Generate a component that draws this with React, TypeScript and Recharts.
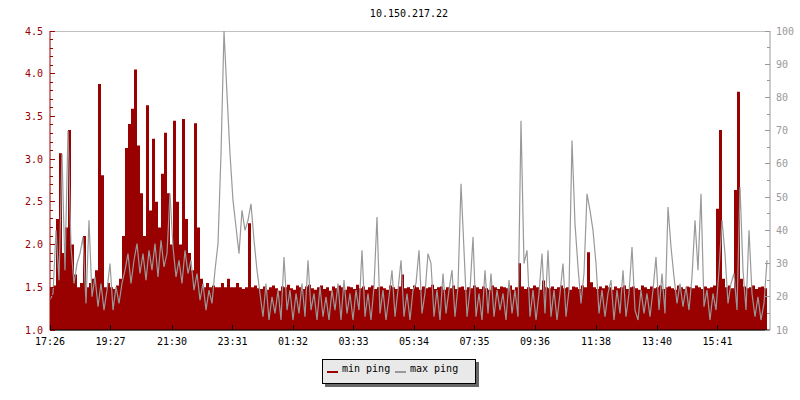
import React from 'react';
import { ComposedChart, Area, Line, XAxis, YAxis, CartesianGrid, Legend } from 'recharts';

const FONT = '"DejaVu Sans Mono", "Liberation Mono", monospace';
const TITLE = '10.150.217.22';

// minutes after 17:26 for each sample (one sample every 6 minutes)
const STEP_MINUTES = 6;
const TIME_TICKS = [0, 121, 244, 365, 486, 607, 728, 849, 970, 1092, 1214, 1335];
const TIME_LABELS = ['17:26', '19:27', '21:30', '23:31', '01:32', '03:33', '05:34', '07:35', '09:36', '11:38', '13:40', '15:41'];

// min ping (left axis)
const MIN_PING = [
  1.50, 1.52, 2.30, 3.07, 1.90, 2.20, 3.34, 2.00, 1.65, 1.50,
  1.55, 2.10, 1.50, 1.55, 1.60, 1.70, 3.88, 2.81, 1.50, 1.55,
  1.50, 1.48, 1.52, 1.60, 2.10, 3.13, 3.41, 3.59, 4.05, 3.16,
  2.60, 2.10, 3.63, 2.40, 3.24, 2.50, 2.20, 2.83, 3.31, 2.60,
  2.00, 3.45, 2.50, 2.00, 3.47, 2.30, 1.90, 1.70, 3.42, 2.20,
  1.60, 1.50, 1.55, 1.50, 1.52, 1.50, 1.50, 1.55, 1.50, 1.60,
  1.50, 1.50, 1.55, 1.50, 1.48, 1.50, 2.25, 1.50, 1.52, 1.49,
  1.48, 1.51, 1.47, 1.50, 1.52, 1.49, 1.46, 1.51, 1.50, 1.53,
  1.49, 1.47, 1.52, 1.50, 1.48, 1.51, 1.53, 1.49, 1.47, 1.50,
  1.52, 1.48, 1.50, 1.46, 1.51, 1.49, 1.52, 1.50, 1.47, 1.51,
  1.50, 1.48, 1.53, 1.49, 1.51, 1.47, 1.50, 1.52, 1.48, 1.50,
  1.51, 1.49, 1.47, 1.52, 1.50, 1.48, 1.51, 1.65, 1.49, 1.50,
  1.48, 1.52, 1.50, 1.47, 1.51, 1.49, 1.50, 1.53, 1.48, 1.50,
  1.51, 1.47, 1.50, 1.49, 1.52, 1.48, 1.50, 1.51, 1.47, 1.50,
  1.49, 1.52, 1.50, 1.48, 1.51, 1.49, 1.47, 1.52, 1.50, 1.48,
  1.51, 1.50, 1.49, 1.52, 1.47, 1.50, 1.78, 1.51, 1.48, 1.50,
  1.49, 1.52, 1.50, 1.47, 1.58, 1.50, 1.49, 1.51, 1.48, 1.50,
  1.52, 1.49, 1.50, 1.47, 1.51, 1.50, 1.48, 1.52, 1.50, 1.91,
  1.56, 1.50, 1.48, 1.51, 1.49, 1.52, 1.50, 1.47, 1.51, 1.49,
  1.50, 1.52, 1.48, 1.50, 1.51, 1.49, 1.47, 1.52, 1.50, 1.48,
  1.51, 1.49, 1.50, 1.52, 1.48, 1.50, 1.51, 1.49, 1.47, 1.52,
  1.50, 1.48, 1.51, 1.50, 1.49, 1.52, 1.50, 1.48, 1.51, 1.49,
  1.50, 1.52, 2.42, 3.34, 1.60, 1.50, 1.52, 1.49, 2.64, 3.79,
  1.60, 1.51, 1.49, 1.50, 1.52, 1.48, 1.50, 1.51, 1.49, 1.50,
];

// max ping (right axis)
const MAX_PING = [
  19, 21, 40, 25, 63, 28, 70, 35, 24, 30,
  33, 38, 18, 43, 20, 26, 17, 24, 16, 22,
  30, 16, 23, 18, 24, 28, 33, 24, 31, 36,
  27, 33, 25, 34, 28, 36, 26, 37, 29, 33,
  51, 35, 26, 31, 24, 34, 27, 31, 22, 27,
  19, 24, 16, 22, 18, 28, 36, 63, 100, 81,
  63, 49, 41, 33, 46, 40, 43, 48, 37, 28,
  21, 14, 24, 13, 20, 15, 22, 13, 32, 16,
  22, 13, 21, 15, 24, 14, 31, 16, 21, 13,
  23, 14, 20, 13, 22, 16, 24, 13, 25, 15,
  21, 13, 22, 16, 34, 14, 21, 13, 23, 44,
  15, 22, 13, 20, 28, 14, 22, 31, 14, 21,
  13, 22, 24, 34, 15, 21, 33, 30, 14, 22,
  13, 27, 15, 22, 28, 14, 23, 54, 34, 14,
  22, 38, 14, 21, 13, 28, 15, 27, 14, 22,
  16, 21, 13, 25, 15, 22, 14, 73, 30, 34,
  14, 22, 13, 21, 33, 15, 34, 14, 22, 13,
  21, 30, 14, 22, 67, 42, 29, 18, 27, 51,
  46, 40, 30, 15, 22, 14, 21, 25, 13, 22,
  15, 28, 14, 21, 35, 16, 13, 22, 15, 21,
  14, 22, 32, 16, 27, 15, 47, 35, 26, 18,
  24, 17, 23, 16, 26, 43, 28, 51, 17, 22,
  13, 21, 16, 28, 43, 33, 18, 24, 27, 16,
  53, 28, 16, 40, 21, 14, 20, 13, 18, 31,
];

const LEFT_MAJOR = [1.0, 1.5, 2.0, 2.5, 3.0, 3.5, 4.0, 4.5];
const LEFT_ALL = [
  1.0, 1.1, 1.2, 1.3, 1.4, 1.5, 1.6, 1.7, 1.8, 1.9,
  2.0, 2.1, 2.2, 2.3, 2.4, 2.5, 2.6, 2.7, 2.8, 2.9,
  3.0, 3.1, 3.2, 3.3, 3.4, 3.5, 3.6, 3.7, 3.8, 3.9,
  4.0, 4.1, 4.2, 4.3, 4.4, 4.5,
];
const RIGHT_MAJOR = [10, 20, 30, 40, 50, 60, 70, 80, 90, 100];
const RIGHT_ALL = [10, 15, 20, 25, 30, 35, 40, 45, 50, 55, 60, 65, 70, 75, 80, 85, 90, 95, 100];

const SERIES = [
  { key: 'min', name: 'min ping', color: '#990000' },
  { key: 'max', name: 'max ping', color: '#999999' },
];

const data = MIN_PING.map((v, i) => ({ t: i * STEP_MINUTES, min: v, max: MAX_PING[i] }));

const isIn = (arr: number[], v: number) => arr.some((m) => Math.abs(m - v) < 1e-6);

const LeftTick = (props: any) => {
  const { x, y, payload } = props;
  const v = payload.value as number;
  const major = isIn(LEFT_MAJOR, v);
  return (
    <g>
      <line x1={x} x2={x + (major ? 5 : 3)} y1={y} y2={y} stroke="#990000" shapeRendering="crispEdges" />
      {major && (
        <text x={x - 7} y={y} dy={3.5} textAnchor="end" fill="#990000" fontSize={10} fontFamily={FONT}>
          {v.toFixed(1)}
        </text>
      )}
    </g>
  );
};

const RightTick = (props: any) => {
  const { x, y, payload } = props;
  const v = payload.value as number;
  const major = isIn(RIGHT_MAJOR, v);
  return (
    <g>
      <line x1={x - (major ? 5 : 3)} x2={x} y1={y} y2={y} stroke="#999999" shapeRendering="crispEdges" />
      {major && (
        <text x={x + 6} y={y} dy={3.5} textAnchor="start" fill="#999999" fontSize={10} fontFamily={FONT}>
          {String(v)}
        </text>
      )}
    </g>
  );
};

const BottomTick = (props: any) => {
  const { x, y, payload } = props;
  const idx = TIME_TICKS.indexOf(payload.value);
  return (
    <g>
      <line x1={x} x2={x} y1={y - 5} y2={y} stroke="#000000" shapeRendering="crispEdges" />
      <text x={x} y={y + 15} textAnchor="middle" fill="#000000" fontSize={10} fontFamily={FONT}>
        {idx >= 0 ? TIME_LABELS[idx] : ''}
      </text>
    </g>
  );
};

const LegendBox = () => (
  <div
    style={{
      position: 'relative',
      boxSizing: 'border-box',
      width: 154,
      height: 25,
      background: '#e9e9e9',
      border: '1px solid #000',
      boxShadow: '3px 3px 0 #666666',
      fontFamily: FONT,
      fontSize: 10,
      color: '#000',
    }}
  >
    {SERIES.map((s, i) => (
      <React.Fragment key={s.key}>
        <div style={{ position: 'absolute', left: 4 + i * 68, top: 11, width: 11, height: 2, background: s.color }} />
        <div style={{ position: 'absolute', left: 19 + i * 68, top: 3, lineHeight: '12px', whiteSpace: 'nowrap' }}>{s.name}</div>
      </React.Fragment>
    ))}
  </div>
);

export default function App() {
  return (
    <div style={{ position: 'absolute', left: 0, top: 0, width: 800, height: 400, background: '#ffffff' }}>
      <ComposedChart width={800} height={400} data={data} margin={{ top: 31, right: 0, bottom: 40, left: 0 }}>
        <XAxis
          dataKey="t"
          type="number"
          domain={[0, 1440]}
          ticks={TIME_TICKS}
          interval={0}
          tickSize={0}
          tickMargin={0}
          height={30}
          axisLine={{ stroke: '#000000' }}
          tickLine={false}
          tick={<BottomTick />}
        />
        <YAxis
          yAxisId="left"
          orientation="left"
          width={50}
          type="number"
          domain={[1, 4.5]}
          ticks={LEFT_ALL}
          interval={0}
          tickSize={0}
          tickMargin={0}
          axisLine={{ stroke: '#990000' }}
          tickLine={false}
          tick={<LeftTick />}
        />
        <YAxis
          yAxisId="right"
          orientation="right"
          width={30}
          type="number"
          domain={[10, 100]}
          ticks={RIGHT_ALL}
          interval={0}
          tickSize={0}
          tickMargin={0}
          axisLine={{ stroke: '#999999' }}
          tickLine={false}
          tick={<RightTick />}
        />
        <YAxis yAxisId="grid" hide width={0} orientation="left" domain={[1, 4.5]} ticks={LEFT_MAJOR} interval={0} type="number" />
        <CartesianGrid yAxisId="grid" vertical={false} stroke="#c0c0c0" shapeRendering="crispEdges" />
        <Area
          yAxisId="left"
          dataKey="min"
          name="min ping"
          type="stepAfter"
          stroke="none"
          fill="#990000"
          fillOpacity={1}
          dot={false}
          activeDot={false}
          isAnimationActive={false}
        />
        <Line
          yAxisId="right"
          dataKey="max"
          name="max ping"
          type="linear"
          stroke="#999999"
          strokeWidth={1.2}
          dot={false}
          activeDot={false}
          isAnimationActive={false}
        />
        <Legend
          layout="horizontal"
          verticalAlign="middle"
          align="center"
          wrapperStyle={{ left: 322, top: 359, width: 154, height: 25 }}
          content={() => <LegendBox />}
        />
      </ComposedChart>
      <svg width={800} height={400} style={{ position: 'absolute', left: 0, top: 0, pointerEvents: 'none' }}>
        <text x={409} y={17} textAnchor="middle" fontSize={10} fontFamily={FONT} fill="#000000">
          {TITLE}
        </text>
      </svg>
    </div>
  );
}
